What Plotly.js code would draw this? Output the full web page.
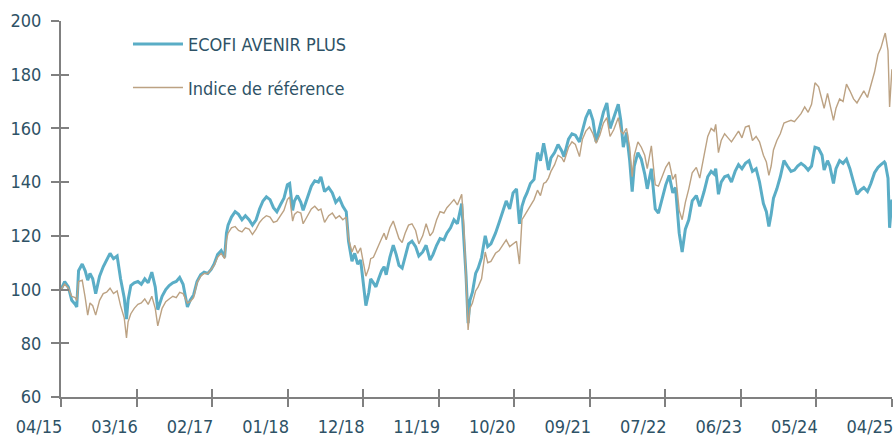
<!DOCTYPE html>
<html><head><meta charset="utf-8">
<script src="https://cdn.plot.ly/plotly-3.0.1.min.js"></script>
<style>html,body{margin:0;padding:0;background:#fff}#chart{width:893px;height:437px}</style>
</head><body><div id="chart"></div>
<script>
const seriesNames = ['ECOFI AVENIR PLUS', 'Indice de référence'];

const dates = [
'2015-04-30','2015-05-16','2015-06-01','2015-06-16','2015-07-01','2015-07-08','2015-07-16','2015-08-01','2015-08-14','2015-08-25',
'2015-09-04','2015-09-16','2015-09-29','2015-10-16','2015-11-01','2015-11-16','2015-12-01','2015-12-16','2016-01-01','2016-01-16',
'2016-02-01','2016-02-11','2016-02-18','2016-03-01','2016-03-16','2016-04-01','2016-04-16','2016-05-01','2016-05-16','2016-06-01',
'2016-06-16','2016-06-27','2016-07-16','2016-08-01','2016-08-16','2016-09-01','2016-09-16','2016-10-01','2016-10-16','2016-11-04',
'2016-11-16','2016-12-01','2016-12-16','2017-01-01','2017-01-16','2017-02-01','2017-02-16','2017-03-01','2017-03-16','2017-04-01',
'2017-04-16','2017-04-24','2017-05-01','2017-05-16','2017-06-01','2017-06-16','2017-07-01','2017-07-16','2017-08-01','2017-08-16',
'2017-09-01','2017-09-16','2017-10-01','2017-10-16','2017-11-01','2017-11-16','2017-12-01','2017-12-16','2018-01-01','2018-01-16',
'2018-01-26','2018-02-08','2018-02-16','2018-03-01','2018-03-16','2018-03-26','2018-04-16','2018-05-01','2018-05-16','2018-06-01',
'2018-06-12','2018-06-28','2018-07-16','2018-08-01','2018-08-16','2018-09-01','2018-09-16','2018-10-01','2018-10-11','2018-10-26',
'2018-11-07','2018-11-20','2018-12-03','2018-12-14','2018-12-26','2019-01-08','2019-01-16','2019-01-28','2019-02-08','2019-02-20',
'2019-03-05','2019-03-16','2019-03-25','2019-04-10','2019-04-25','2019-05-08','2019-05-20','2019-06-03','2019-06-16','2019-07-01',
'2019-07-16','2019-08-01','2019-08-15','2019-09-01','2019-09-16','2019-10-03','2019-10-16','2019-11-01','2019-11-16','2019-12-03',
'2019-12-16','2020-01-01','2020-01-16','2020-01-31','2020-02-19','2020-02-28','2020-03-09','2020-03-18','2020-03-26','2020-04-06',
'2020-04-20','2020-05-01','2020-05-16','2020-06-01','2020-06-12','2020-06-26','2020-07-16','2020-08-01','2020-08-16','2020-09-01',
'2020-09-16','2020-10-01','2020-10-16','2020-10-29','2020-11-09','2020-11-20','2020-12-01','2020-12-16','2021-01-01','2021-01-16',
'2021-01-29','2021-02-12','2021-02-22','2021-03-05','2021-03-16','2021-04-01','2021-04-16','2021-05-03','2021-05-12','2021-06-01',
'2021-06-16','2021-07-01','2021-07-19','2021-08-01','2021-08-16','2021-09-01','2021-09-16','2021-09-30','2021-10-16','2021-11-01',
'2021-11-16','2021-11-30','2021-12-16','2022-01-05','2022-01-16','2022-01-27','2022-02-10','2022-02-24','2022-03-07','2022-03-16',
'2022-04-01','2022-04-16','2022-05-01','2022-05-12','2022-05-30','2022-06-16','2022-06-30','2022-07-16','2022-08-01','2022-08-16',
'2022-09-01','2022-09-13','2022-09-29','2022-10-12','2022-10-26','2022-11-10','2022-11-25','2022-12-13','2022-12-28','2023-01-16',
'2023-02-01','2023-02-16','2023-03-01','2023-03-08','2023-03-20','2023-04-01','2023-04-16','2023-05-01','2023-05-16','2023-06-01',
'2023-06-16','2023-07-01','2023-07-16','2023-08-01','2023-08-16','2023-09-01','2023-09-16','2023-10-03','2023-10-16','2023-10-27',
'2023-11-06','2023-11-16','2023-12-01','2023-12-16','2024-01-01','2024-01-16','2024-02-01','2024-02-16','2024-03-01','2024-03-16',
'2024-04-01','2024-04-16','2024-05-01','2024-05-16','2024-06-01','2024-06-16','2024-06-25','2024-07-10','2024-07-20','2024-08-05',
'2024-08-16','2024-09-01','2024-09-16','2024-10-01','2024-10-16','2024-11-01','2024-11-16','2024-12-01','2024-12-16','2025-01-01',
'2025-01-16','2025-02-01','2025-02-16','2025-03-01','2025-03-16','2025-03-20','2025-04-01','2025-04-08','2025-04-18'
];

const fundValues = [
100,103,101,96,94.5,93.5,107,109.5,107,103.5,
106,104,98.5,105,108.5,111,113.5,111.5,112.5,104,
97,89,96,101.5,102.5,103,102,104,102.5,106.5,
101,92.5,97.5,100,101.5,102.5,103,104.5,102,93.5,
96,98,103,105.5,106.5,106,107.5,109.5,113,114.5,
112,121,124,127,129,128,126,127.5,126,124,
126,130,133,134.5,133.5,130.5,129,131.5,134,139,
139.5,129.5,133,135,132.5,129.5,135,138.5,140.5,140,
142,136.5,138,136,132.5,134,131,129,118,110.5,
113.5,109.5,111,103,94,99,104,102.5,101,104,
107,108.5,105.5,112,116.5,113,109,108,112,117,
118,116,112.5,114,116.5,111,113,116.5,119,118.5,
121,123,126,124.5,132,121,105,87.5,96,99,
106,108,112,120,116,117,121,125,129,133,
130,136,137.5,124.5,131,134,136,139.5,141,151,
148,154.5,150,144.5,149,151,154,151.5,149.5,156,
158,157.5,155,159.5,164,167,163,155,160,166,
169.5,160,164,169,163,153,158.5,148,136.5,146,
151,148.5,143,137.5,145,130,128.5,134,139,142.5,
136,138,121,114,122.5,126,133,135,131,136.5,
142,144,143,145,135.5,140,142,142.5,140,144,
146.5,145,147,148,144,145,140,132,129,123.5,
128,134,137.5,142,148,146,144,144.5,146,147,
146,144.5,146,153,152.5,150,144.5,148,146,139.5,
145,148,147,148.5,145,140,135.5,137,138,136.5,
139.5,143.5,145.5,146.5,147.5,147,141.5,123,133.5
];

const benchmarkValues = [
100,102,100.5,97.5,97,96,103,103.5,97,90.5,
95,94,90.5,96,98.5,99,100.5,98.5,99.5,94,
89.5,82,88,91,93,94.5,95,96.5,94.5,97.5,
93,86.5,93,95.5,96.5,97.5,97,99,98.5,95,
95.5,97,102.5,105,106,106,107.5,109,112,113.5,
111.5,118.5,121,123,123.5,122,121.5,123,122.5,120.5,
122.5,125,126.5,127.5,127,125,125.5,127.5,129.5,133.5,
134.5,125.5,128,129,128.5,124.5,127.5,130,131,129.5,
130,125,127.5,128.5,126.5,127.5,126,127,119,114,
116.5,113.5,115.5,110.5,105,108,111.5,112,114.5,116.5,
119,121,118.5,123,125.5,122,119,117.5,121,124,
124.5,122,117,120,124.5,120,121.5,126,129,128.5,
130.5,132,133.5,131.5,135.5,124,106,85,93,95,
99.5,101,104,114,110,110.5,113.5,114.5,116.5,118.5,
116,117,118,109.5,126,127.5,129,131.5,133.5,137,
135,139.5,140,141.5,144,146.5,150,149,147.5,153,
155,154,149.5,156,159,160.5,158,154.5,157.5,162,
164,157,159.5,164,159,158,160,153,142,150,
155,153,150,145,153.5,139,138.5,142,145.5,147.5,
141,143,129.5,126,132.5,137.5,143.5,145.5,141.5,150,
157,160,159,161.5,151,155.5,158,156.5,155,157,
159,156.5,160.5,161,155.5,157,155,150,147.5,142.5,
146,152,155.5,158,162,162.5,163,162.5,164,165.5,
168,166,169,177,175.5,170.5,167.5,173,169,163,
167.5,171,170,176.5,174,171,169.5,172,174,171.5,
176,181,187.5,190,194.5,195.5,189,168,182
];

const tickDates = ['2015-04-30','2016-03-26','2017-02-20','2018-01-17','2018-12-14','2019-11-10',
                   '2020-10-06','2021-09-02','2022-07-30','2023-06-26','2024-05-22','2025-04-18'];
const tickLabels = ['04/15','03/16','02/17','01/18','12/18','11/19','10/20','09/21','07/22','06/23','05/24','04/25'];
const yTickVals = [60, 80, 100, 120, 140, 160, 180, 200];
const xRange = ['2015-04-30', '2025-04-18 12:00'];
const yRange = [60, 200];

const FONT = '"DejaVu Sans Condensed", "Liberation Sans Narrow", "Roboto", sans-serif';
const TEXT_COLOR = '#2E5266';
const AXIS_COLOR = '#808080';

const traces = [
  {x: dates, y: fundValues, name: seriesNames[0], type: 'scatter', mode: 'lines',
   line: {color: '#5AADC6', width: 3}, legendgroup: 'a'},
  {x: dates, y: benchmarkValues, name: seriesNames[1], type: 'scatter', mode: 'lines',
   line: {color: '#BCA283', width: 1.4}, legendgroup: 'b'},
  // helper traces so the inner half of the crossing ticks gets its own axes drawn
  {x: [tickDates[1]], y: [100], xaxis: 'x2', yaxis: 'y', showlegend: false, hoverinfo: 'skip',
   type: 'scatter', mode: 'markers', marker: {size: 1, opacity: 0}},
  {x: [tickDates[1]], y: [100], xaxis: 'x', yaxis: 'y2', showlegend: false, hoverinfo: 'skip',
   type: 'scatter', mode: 'markers', marker: {size: 1, opacity: 0}}
];

const layout = {
  width: 893, height: 437,
  margin: {l: 61, r: 1, t: 21, b: 40},
  paper_bgcolor: '#ffffff', plot_bgcolor: '#ffffff',
  font: {family: FONT, color: TEXT_COLOR},
  showlegend: true,
  legend: {x: 0.0806, y: 0.987, xanchor: 'left', yanchor: 'top', bgcolor: 'rgba(0,0,0,0)',
           font: {family: FONT, size: 18, color: TEXT_COLOR}, tracegroupgap: 17, itemwidth: 50},
  xaxis: {type: 'date', range: xRange,
          tickmode: 'array', tickvals: tickDates, ticktext: tickLabels,
          ticks: 'outside', ticklen: 8, tickwidth: 2, tickcolor: AXIS_COLOR,
          showline: true, linecolor: AXIS_COLOR, linewidth: 2, showgrid: false, zeroline: false,
          tickfont: {family: FONT, size: 18, color: TEXT_COLOR}, ticklabelshift: -22, ticklabelstandoff: 4,
          ticklabeloverflow: 'allow'},
  xaxis2: {type: 'date', overlaying: 'x', anchor: 'y', side: 'bottom', range: xRange,
           tickmode: 'array', tickvals: tickDates, showticklabels: false,
           ticks: 'inside', ticklen: 8, tickwidth: 2, tickcolor: AXIS_COLOR,
           showline: false, showgrid: false, zeroline: false},
  yaxis: {range: yRange, tickmode: 'array', tickvals: yTickVals,
          ticks: 'outside', ticklen: 8, tickwidth: 2, tickcolor: AXIS_COLOR,
          showline: true, linecolor: AXIS_COLOR, linewidth: 2, showgrid: false, zeroline: false,
          tickfont: {family: FONT, size: 18, color: TEXT_COLOR}, ticklabelstandoff: 6},
  yaxis2: {range: yRange, overlaying: 'y', anchor: 'x', side: 'left',
           tickmode: 'array', tickvals: yTickVals, showticklabels: false,
           ticks: 'inside', ticklen: 8, tickwidth: 2, tickcolor: AXIS_COLOR,
           showline: false, showgrid: false, zeroline: false}
};

Plotly.newPlot('chart', traces, layout, {staticPlot: true, displayModeBar: false});
</script>
</body></html>
